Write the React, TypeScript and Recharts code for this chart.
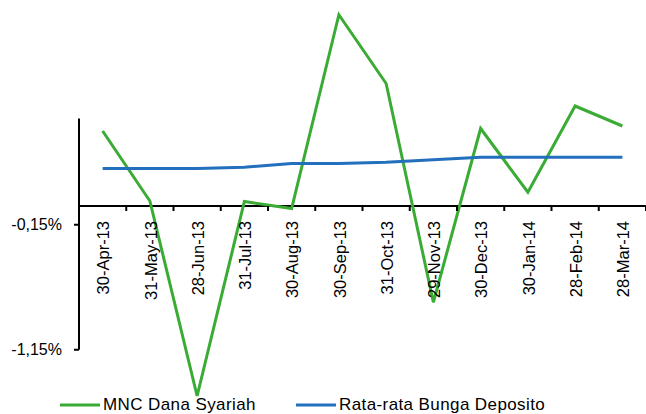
import React from "react"
import {
  LineChart,
  Line,
  XAxis,
  YAxis,
  Legend,
  ReferenceLine,
} from "recharts"

const dates = [
  "30-Apr-13",
  "31-May-13",
  "28-Jun-13",
  "31-Jul-13",
  "30-Aug-13",
  "30-Sep-13",
  "31-Oct-13",
  "29-Nov-13",
  "30-Dec-13",
  "30-Jan-14",
  "28-Feb-14",
  "28-Mar-14",
]
const mncDanaSyariah = [0.6, 0.04, -1.52, 0.036, -0.02, 1.53, 0.98, -0.77, 0.62, 0.11, 0.8, 0.64]
const bungaDeposito = [0.3, 0.3, 0.3, 0.31, 0.34, 0.34, 0.35, 0.37, 0.39, 0.39, 0.39, 0.39]
const yTicks = [-1.15, -0.15]
const yAxisTop = 0.7

const WIDTH = 646
const HEIGHT = 414
const MARGIN = { top: 6, right: 0, bottom: 7, left: 0 }
const Y_AXIS_W = 79
const Y_MIN = -1.6
const Y_MAX = 1.6
const PLOT_H = HEIGHT - MARGIN.top - MARGIN.bottom - 1
const PLOT_W = WIDTH - Y_AXIS_W - MARGIN.left - MARGIN.right
const BAND = PLOT_W / dates.length
const ZERO_Y = MARGIN.top + (Y_MAX / (Y_MAX - Y_MIN)) * PLOT_H

const GREEN = "#3aab35"
const BLUE = "#2270bd"
const FONT = "'Liberation Sans', Arial, sans-serif"

const data = dates.map((date, i) => ({
  date,
  mnc: mncDanaSyariah[i],
  deposito: bungaDeposito[i],
}))

function DateTick(props: any) {
  const { x, payload } = props
  const ty = ZERO_Y + 15
  return (
    <g>
      <line
        x1={x + BAND / 2}
        x2={x + BAND / 2}
        y1={ZERO_Y}
        y2={ZERO_Y + 5}
        stroke="#000"
        strokeWidth={2}
      />
      <text
        x={x + 1}
        y={ty}
        dy="0.35em"
        textAnchor="end"
        transform={`rotate(-90, ${x + 1}, ${ty})`}
        fontSize={16.5}
        fontFamily={FONT}
        fill="#000"
      >
        {payload.value}
      </text>
    </g>
  )
}

function LegendContent(props: any) {
  const items = props.payload || []
  return (
    <div style={{ display: "flex", alignItems: "center", paddingLeft: 60, fontFamily: FONT, fontSize: 17, letterSpacing: 0.4, color: "#000" }}>
      {items.map((item: any, i: number) => (
        <div key={i} style={{ display: "flex", alignItems: "center", minWidth: i === 0 ? 236 : 0 }}>
          <svg width={40} height={4} style={{ display: "block" }}>
            <line x1={0} x2={40} y1={2} y2={2} stroke={item.color} strokeWidth={3} />
          </svg>
          <span style={{ marginLeft: 3, lineHeight: "18px", whiteSpace: "nowrap" }}>{item.value}</span>
        </div>
      ))}
    </div>
  )
}

export default function App() {
  return (
    <div style={{ position: "absolute", left: 0, top: 0, background: "#fff" }}>
      <LineChart width={WIDTH} height={HEIGHT} data={data} margin={MARGIN}>
        <XAxis
          dataKey="date"
          scale="band"
          height={1}
          axisLine={false}
          tickLine={false}
          interval={0}
          tick={(p: any) => <DateTick {...p} />}
        />
        <XAxis xAxisId="n" type="number" domain={[0, dates.length]} hide />
        <YAxis
          width={Y_AXIS_W}
          domain={[Y_MIN, Y_MAX]}
          ticks={yTicks}
          axisLine={false}
          tickLine={{ stroke: "#000", strokeWidth: 2 }}
          tickSize={5}
          tickMargin={12}
          tick={{ fill: "#000", fontSize: 16, fontFamily: FONT }}
          tickFormatter={(v: number) => `${v.toFixed(2).replace(".", ",")}%`}
        />
        <ReferenceLine y={0} stroke="#000" strokeWidth={2} />
        <ReferenceLine
          xAxisId="n"
          segment={[
            { x: 0, y: yTicks[0] },
            { x: 0, y: yAxisTop },
          ]}
          stroke="#000"
          strokeWidth={2}
        />
        <Line
          dataKey="mnc"
          name="MNC Dana Syariah"
          stroke={GREEN}
          strokeWidth={3}
          dot={false}
          isAnimationActive={false}
        />
        <Line
          dataKey="deposito"
          name="Rata-rata Bunga Deposito"
          stroke={BLUE}
          strokeWidth={3}
          dot={false}
          isAnimationActive={false}
        />
        <Legend
          layout="horizontal"
          verticalAlign="middle"
          align="center"
          content={<LegendContent />}
          wrapperStyle={{ top: 396, left: 0, width: WIDTH }}
        />
      </LineChart>
    </div>
  )
}
